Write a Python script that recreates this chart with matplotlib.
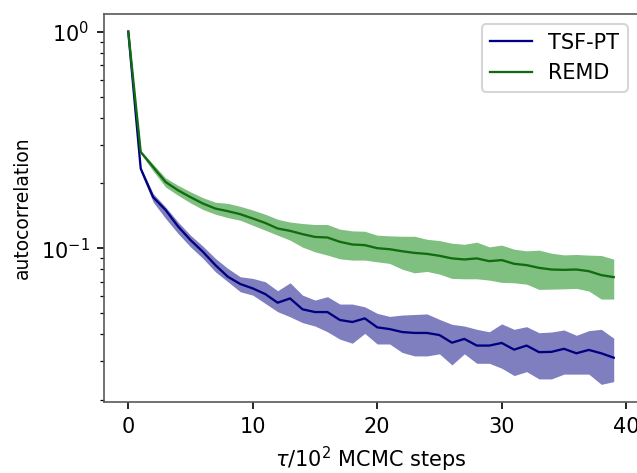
import numpy as np
import matplotlib
matplotlib.use('Agg')
import matplotlib.pyplot as plt

# Dane: autokorelacja w funkcji opóźnienia (tau / 10^2 krokow MCMC)
steps = np.arange(40)

tsf_mean = [1.0, 0.233, 0.172, 0.150, 0.126, 0.109, 0.0962, 0.0835, 0.0738, 0.0683,
            0.0652, 0.0614, 0.0560, 0.0586, 0.0522, 0.0507, 0.0507, 0.0466, 0.0456, 0.0474,
            0.0431, 0.0423, 0.0410, 0.0406, 0.0406, 0.0397, 0.0366, 0.0381, 0.0355, 0.0355,
            0.0365, 0.0340, 0.0355, 0.0331, 0.0332, 0.0343, 0.0327, 0.0339, 0.0327, 0.0312]
tsf_upper = [1.0, 0.237, 0.1787, 0.1549, 0.1321, 0.1148, 0.1021, 0.0897, 0.0806, 0.0738,
             0.0725, 0.0700, 0.0636, 0.0692, 0.0607, 0.0576, 0.0597, 0.0552, 0.0552, 0.0536,
             0.0500, 0.0484, 0.0491, 0.0494, 0.0497, 0.0469, 0.0445, 0.0437, 0.0422, 0.0411,
             0.0447, 0.0422, 0.0434, 0.0407, 0.0410, 0.0419, 0.0396, 0.0416, 0.0422, 0.0384]
tsf_lower = [1.0, 0.2248, 0.1634, 0.1371, 0.1169, 0.1014, 0.0897, 0.0778, 0.0700, 0.0629,
             0.0607, 0.0556, 0.0509, 0.0482, 0.0453, 0.0437, 0.0411, 0.0380, 0.0364, 0.0404,
             0.0361, 0.0361, 0.0330, 0.0318, 0.0318, 0.0325, 0.0289, 0.0325, 0.0294, 0.0294,
             0.0279, 0.0258, 0.0269, 0.0249, 0.0249, 0.0262, 0.0262, 0.0262, 0.0235, 0.0242]

remd_mean = [1.0, 0.278, 0.237, 0.202, 0.185, 0.172, 0.1607, 0.1524, 0.1482, 0.1435,
             0.1371, 0.1308, 0.1233, 0.1202, 0.1161, 0.1127, 0.112, 0.107, 0.104, 0.1033,
             0.100, 0.0989, 0.0968, 0.0951, 0.0941, 0.0922, 0.0897, 0.0887, 0.0897, 0.0871,
             0.0881, 0.0847, 0.0835, 0.0811, 0.0797, 0.0794, 0.0797, 0.0783, 0.0751, 0.0735]
remd_upper = [1.0, 0.283, 0.244, 0.211, 0.195, 0.182, 0.171, 0.163, 0.161, 0.156,
              0.150, 0.1435, 0.136, 0.132, 0.130, 0.1286, 0.1286, 0.1224, 0.1202, 0.1197,
              0.1148, 0.1140, 0.1135, 0.1135, 0.1099, 0.1084, 0.1054, 0.1042, 0.1066, 0.1014,
              0.1033, 0.0989, 0.0972, 0.0979, 0.0948, 0.0931, 0.0935, 0.0929, 0.0925, 0.0890]
remd_lower = [1.0, 0.273, 0.227, 0.1915, 0.1754, 0.1618, 0.1508, 0.1435, 0.1384, 0.1346,
              0.1276, 0.1211, 0.1148, 0.1089, 0.1011, 0.0962, 0.0929, 0.0893, 0.0881, 0.0881,
              0.0865, 0.0850, 0.0800, 0.0769, 0.0781, 0.0759, 0.0725, 0.0722, 0.0722, 0.0712,
              0.0695, 0.0692, 0.0682, 0.0645, 0.0647, 0.0649, 0.0652, 0.0634, 0.0582, 0.0582]

fig = plt.figure(figsize=(637 / 150, 473 / 150), dpi=150)
ax = fig.add_axes([104 / 637, 71 / 473, 534 / 637, 388 / 473])

ax.fill_between(steps, tsf_lower, tsf_upper, color='navy', alpha=0.5, linewidth=0)
ax.plot(steps, tsf_mean, color='navy', lw=1.1, label='TSF-PT')
ax.fill_between(steps, remd_lower, remd_upper, color='green', alpha=0.5, linewidth=0)
ax.plot(steps, remd_mean, color='#116b11', lw=1.1, label='REMD')

ax.set_yscale('log')
ax.set_xticks([0, 10, 20, 30, 40])
ax.set_xlabel(r'$\tau/10^2$ MCMC steps')
ax.set_ylabel('autocorrelation', fontsize=9)
for sp in ax.spines.values():
    sp.set_color('0.35')
ax.legend(loc='upper right')

fig.savefig('out.png', dpi=150)
